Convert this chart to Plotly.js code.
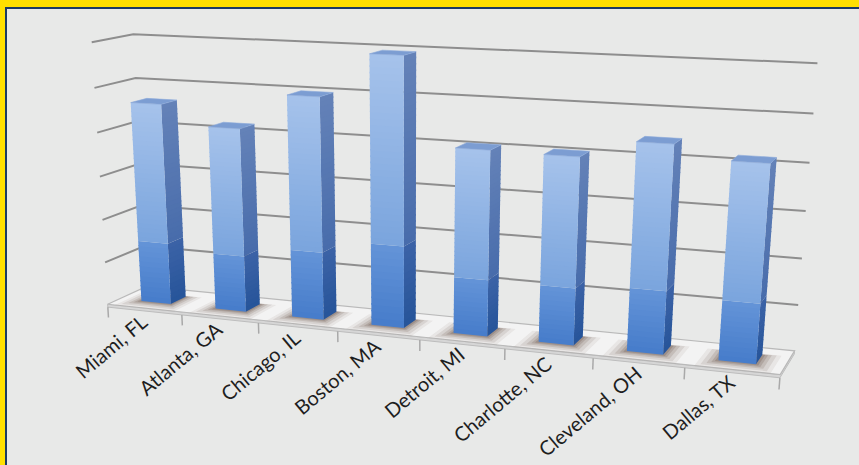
<!DOCTYPE html>
<html><head><meta charset="utf-8">
<script src="https://cdn.plot.ly/plotly-3.0.1.min.js"></script>
<style>
html,body{margin:0;padding:0;background:#ffe000;overflow:hidden;}
#frame{position:absolute;left:5px;top:7px;width:854px;height:458px;background:#1c3b63;}
#chart{position:absolute;left:2px;top:2px;width:852px;height:456px;}
</style></head><body>
<div id="frame"><div id="chart"></div></div>
<script>
// ---------------- data ----------------
const categories = ["Miami, FL","Atlanta, GA","Chicago, IL","Boston, MA","Detroit, MI","Charlotte, NC","Cleveland, OH","Dallas, TX"];
const values = [4.63, 4.19, 4.99, 5.95, 4.07, 4.05, 4.43, 4.16];
const gridLevels = [1,2,3,4,5,6];

// ------------- 3D -> 2D perspective camera (calibration of the view) -------------
// [category position, depth, value, screen x, screen y]
const calib = [
  [-0.5,0,0,108,302],[-0.5,0,6,90,42],[-0.5,1,6,137,33],[-0.5,1,0,142,287],
  [7.5,1,6,817,63],[7.5,1,0,794,350],[7.5,0,0,778,376],
  [1.5,0,0,259,319],[3.5,0,0,419,336],[5.5,0,0,592,356],
  [-0.5,0,3,100,178],[-0.5,1,3,137,167],[7.5,1,3,806,211],
  [-0.5,0,5,92,88],[-0.5,1,5,138,77],[7.5,1,5,813,114],
  [-0.5,0,1,105,262],[7.5,1,1,798,303],
  [-0.2,0.3,0,145,302],[0.2,0.3,0,173,303],[6.8,0.3,0,719,363],[7.2,0.3,0,760,363]
];
function solve(A,b){
  const n=b.length; A=A.map((r,i)=>r.concat([b[i]]));
  for(let c=0;c<n;c++){
    let p=c; for(let r=c+1;r<n;r++) if(Math.abs(A[r][c])>Math.abs(A[p][c])) p=r;
    [A[c],A[p]]=[A[p],A[c]];
    for(let r=0;r<n;r++){ if(r===c) continue; const f=A[r][c]/A[c][c];
      for(let k=c;k<=n;k++) A[r][k]-=f*A[c][k]; }
  }
  return A.map((r,i)=>r[n]/r[i]);
}
const P = (function(){
  const rows=[],rhs=[];
  calib.forEach(([X,D,V,px,py])=>{
    const u=px/100, v=py/100;
    rows.push([X,D,V,1,0,0,0,0,-u*X,-u*D,-u*V]); rhs.push(u);
    rows.push([0,0,0,0,X,D,V,1,-v*X,-v*D,-v*V]); rhs.push(v);
  });
  const N=11, AtA=[],Atb=[];
  for(let i=0;i<N;i++){AtA.push(new Array(N).fill(0));Atb.push(0);}
  rows.forEach((r,k)=>{for(let i=0;i<N;i++){Atb[i]+=r[i]*rhs[k];for(let j=0;j<N;j++)AtA[i][j]+=r[i]*r[j];}});
  return solve(AtA,Atb);
})();
function proj(X,D,V){
  const w=P[8]*X+P[9]*D+P[10]*V+1;
  return [100*(P[0]*X+P[1]*D+P[2]*V+P[3])/w, 100*(P[4]*X+P[5]*D+P[6]*V+P[7])/w];
}

// ------------- geometry helpers -------------
const X0=-0.5, X1=categories.length-0.5, hw=0.2, d0=0.3, d1=0.7;
const traces=[];
function poly(list, color, opts){
  const xs=[],ys=[];
  list.forEach(pg=>{pg.forEach(p=>{const q=proj(...p);xs.push(q[0]);ys.push(q[1]);});
    const q=proj(...pg[0]);xs.push(q[0]);ys.push(q[1]);xs.push(null);ys.push(null);});
  traces.push(Object.assign({type:'scatter',mode:'lines',x:xs,y:ys,fill:'toself',fillcolor:color,
    line:{color:color,width:0},hoverinfo:'skip',showlegend:false},opts||{}));
}
function lines(list, color, width){
  const xs=[],ys=[];
  list.forEach(pl=>{pl.forEach(p=>{const q=proj(...p);xs.push(q[0]);ys.push(q[1]);});xs.push(null);ys.push(null);});
  traces.push({type:'scatter',mode:'lines',x:xs,y:ys,line:{color:color,width:width},hoverinfo:'skip',showlegend:false});
}
function mix(a,b,t){return 'rgb('+a.map((v,i)=>Math.round(v+(b[i]-v)*t)).join(',')+')';}

// wall gridlines
lines(gridLevels.map(v=>[[X0,0,v],[X0,1,v],[X1,1,v]]),'#8e8e8e',2);

// floor plate
const th=-0.07;
poly([[[X0,0,th],[X1,0,th],[X1,1,th],[X1,1,0],[X1,0,0],[X0,0,0]]],'#d6d6d6',{line:{color:'#bdbdbd',width:1}});
poly([[[X0,0,0],[X1,0,0],[X1,1,0],[X0,1,0]]],'#f3f3f3',{line:{color:'#b9b9b9',width:1.2}});
// tick marks
const tickPos=[]; for(let k=0;k<=categories.length;k++) tickPos.push(X0+k);
lines(tickPos.map(x=>[[x,0,th],[x,0,-0.32]]),'#a9a9a9',1.5);

// shadows (soft, layered)
[0.2,0.15,0.1,0.06,0.03].forEach((e,n)=>{
  poly(values.map((v,i)=>[[i-hw-e,d0-e*1.5,0],[i+hw+e,d0-e*1.5,0],[i+hw+e,d1+e*0.2,0],[i-hw-e,d1+e*0.2,0]]),
    'rgba(100,76,64,'+[0.08,0.12,0.16,0.2,0.25][n]+')');
});

// bars: side + front with vertical gradient split at tBreak, then top
const tBreak=0.31;
const fTop=[166,195,235], fHi=[122,164,221], fLo=[100,148,216], fBot=[70,124,202];
const sTop=[100,130,184], sHi=[72,108,171], sLo=[60,99,167], sBot=[38,84,153];
const topCol='rgb(124,157,210)';
const bands=[], NL=12, NH=30, ov=0.006;
for(let k=0;k<NL;k++) bands.push([tBreak*k/NL, Math.min(tBreak, tBreak*(k+1)/NL+ov),'lo',(k+0.5)/NL]);
for(let k=0;k<NH;k++) bands.push([tBreak+(1-tBreak)*k/NH, Math.min(1,tBreak+(1-tBreak)*(k+1)/NH+ov),'hi',(k+0.5)/NH]);
bands.forEach(([a,b,part,m])=>{
  const sc = part==='lo'? mix(sBot,sLo,m) : mix(sHi,sTop,m);
  poly(values.map((v,i)=>[[i+hw,d0,a*v],[i+hw,d1,a*v],[i+hw,d1,b*v],[i+hw,d0,b*v]]),sc);
});
bands.forEach(([a,b,part,m])=>{
  const fc = part==='lo'? mix(fBot,fLo,m) : mix(fHi,fTop,m);
  poly(values.map((v,i)=>[[i-hw,d0,a*v],[i+hw,d0,a*v],[i+hw,d0,b*v],[i-hw,d0,b*v]]),fc);
});
poly(values.map((v,i)=>[[i-hw,d0,v],[i+hw,d0,v],[i+hw,d1,v],[i-hw,d1,v]]),topCol,{line:{color:'rgb(140,170,218)',width:0.6}});

// category labels
const annotations = categories.map((c,i)=>{
  const q=proj(i,0,0);
  return {x:q[0],y:q[1],xref:'x',yref:'y',text:c,showarrow:false,textangle:-40,
    xanchor:'right',yanchor:'top',xshift:10,yshift:2,
    font:{family:'Lato, "Open Sans", sans-serif',size:20,color:'#1e1e1e'}};
});

const layout={
  width:852,height:456,margin:{l:0,r:0,t:0,b:0},
  paper_bgcolor:'#e8e9e8',plot_bgcolor:'#e8e9e8',showlegend:false,
  xaxis:{range:[7,859],visible:false,fixedrange:true},
  yaxis:{range:[465,9],visible:false,fixedrange:true},
  annotations:annotations
};
Plotly.newPlot('chart',traces,layout,{displayModeBar:false,staticPlot:true});
</script></body></html>
